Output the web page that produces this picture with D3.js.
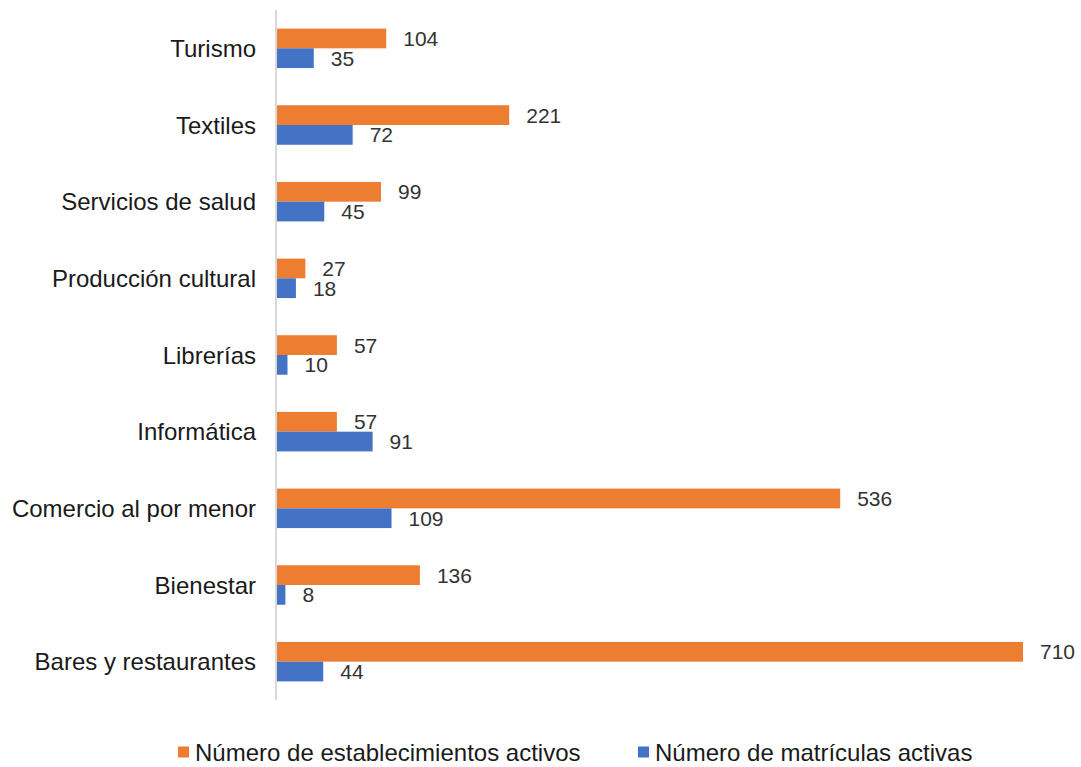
<!DOCTYPE html>
<html>
<head>
<meta charset="utf-8">
<script src="https://cdn.jsdelivr.net/npm/d3@7"></script>
<style>
  body { margin: 0; background: #fff; }
  svg { display: block; font-family: "Liberation Sans", Arial, sans-serif; }
</style>
</head>
<body>
<svg width="1081" height="767"></svg>
<script>
// data, top to bottom as shown
const categories = ["Turismo", "Textiles", "Servicios de salud", "Producción cultural", "Librerías",
  "Informática", "Comercio al por menor", "Bienestar", "Bares y restaurantes"];
const establecimientos = [104, 221, 99, 27, 57, 57, 536, 136, 710];
const matriculas = [35, 72, 45, 18, 10, 91, 109, 8, 44];
const seriesNames = ["Número de establecimientos activos", "Número de matrículas activas"];
const colors = ["#ED7D31", "#4472C4"];

const svg = d3.select("svg");

const x0 = 277;
const x = d3.scaleLinear().domain([0, 710]).range([x0, 1023]);

const y = d3.scaleBand()
  .domain(categories)
  .range([10, 700])
  .paddingInner(0.485)
  .paddingOuter(0.2425);

const ySub = d3.scaleBand()
  .domain([0, 1])
  .range([0, y.bandwidth()]);

const rows = categories.map((c, i) => ({ cat: c, vals: [establecimientos[i], matriculas[i]] }));

const groups = svg.append("g")
  .selectAll("g")
  .data(rows)
  .join("g")
  .attr("transform", d => `translate(0,${y(d.cat)})`);

// bars
groups.selectAll("rect")
  .data(d => d.vals.map((v, k) => ({ v, k })))
  .join("rect")
  .attr("x", x0)
  .attr("y", d => ySub(d.k))
  .attr("width", d => x(d.v) - x0)
  .attr("height", ySub.bandwidth())
  .attr("fill", d => colors[d.k]);

// value labels
groups.selectAll("text.val")
  .data(d => d.vals.map((v, k) => ({ v, k })))
  .join("text")
  .attr("class", "val")
  .attr("x", d => x(d.v) + 17)
  .attr("y", d => ySub(d.k) + ySub.bandwidth() / 2)
  .attr("dy", "0.36em")
  .attr("font-size", 21)
  .attr("fill", "#333333")
  .text(d => d.v);

// category axis line
svg.append("line")
  .attr("x1", 276).attr("x2", 276)
  .attr("y1", 10).attr("y2", 700)
  .attr("stroke", "#D9D9D9")
  .attr("stroke-width", 2);

// category labels
svg.append("g")
  .selectAll("text")
  .data(categories)
  .join("text")
  .attr("x", 256)
  .attr("y", d => y(d) + y.bandwidth() / 2)
  .attr("dy", "0.36em")
  .attr("text-anchor", "end")
  .attr("font-size", 24)
  .attr("fill", "#1a1a1a")
  .text(d => d);

// legend
const legendX = [178, 638];
const legend = svg.append("g")
  .selectAll("g")
  .data(seriesNames)
  .join("g")
  .attr("transform", (d, i) => `translate(${legendX[i]},752)`);

legend.append("rect")
  .attr("x", 0).attr("y", -5.5)
  .attr("width", 11).attr("height", 11)
  .attr("fill", (d, i) => colors[i]);

legend.append("text")
  .attr("x", 17)
  .attr("dy", "0.36em")
  .attr("font-size", 24)
  .attr("fill", "#1a1a1a")
  .text(d => d);
</script>
</body>
</html>
